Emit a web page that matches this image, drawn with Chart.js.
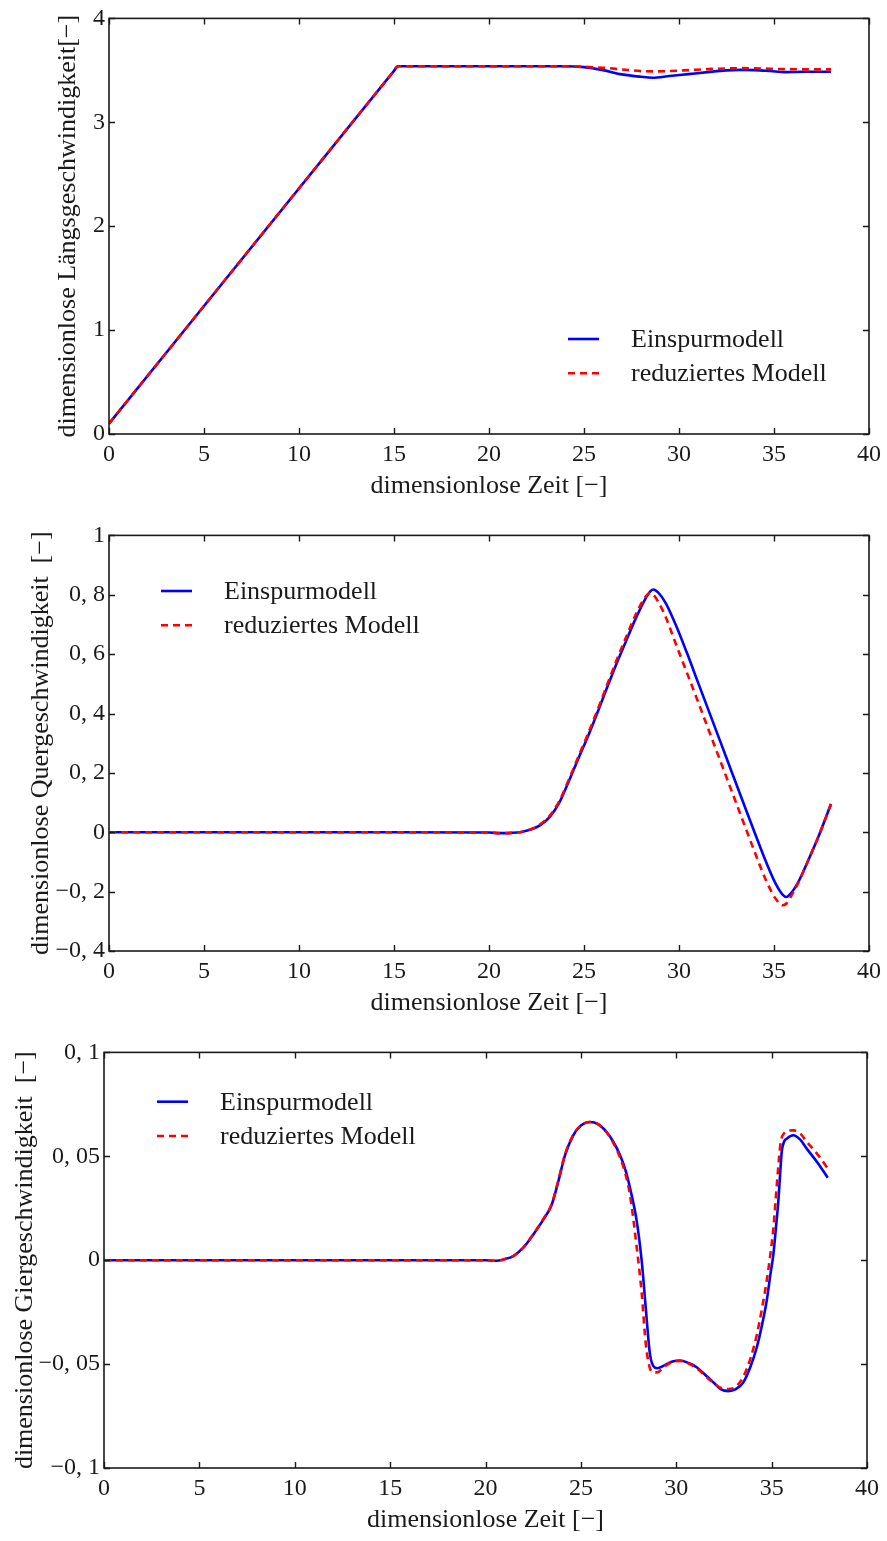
<!DOCTYPE html>
<html>
<head>
<meta charset="utf-8">
<script src="https://cdn.jsdelivr.net/npm/chart.js@4.4.1/dist/chart.umd.min.js"></script>
<style>
  html, body { margin: 0; padding: 0; background: #fff; overflow: hidden; }
  #wrap { position: relative; width: 887px; height: 1541px; }
  canvas { position: absolute; left: 0; }
</style>
</head>
<body>
<div id="wrap">
  <canvas id="c1" width="887" height="517" style="top:0px"></canvas>
  <canvas id="c2" width="887" height="517" style="top:517px"></canvas>
  <canvas id="c3" width="887" height="517" style="top:1034px"></canvas>
</div>
<script>
// ---- series names ----
const seriesNames = ['Einspurmodell', 'reduziertes Modell'];

// ---- shared x axis ----
const xTickValues = [0, 5, 10, 15, 20, 25, 30, 35, 40];
const xTickLabels = ['0', '5', '10', '15', '20', '25', '30', '35', '40'];
const xTitle = 'dimensionlose Zeit [\u2212]';

// ---- longitudinal velocity ----
const time1 = [0, 15.0, 15.2, 16, 18, 20, 22, 24, 25, 26, 27, 28, 28.6, 29.5, 30.5, 31.5, 32.5, 33.2, 34, 34.8, 35.6, 36.5, 37.3, 38];
const single1 = [0.10, 3.495, 3.54, 3.54, 3.54, 3.54, 3.54, 3.54, 3.531, 3.502, 3.461, 3.438, 3.429, 3.445, 3.464, 3.483, 3.50, 3.505, 3.502, 3.493, 3.483, 3.486, 3.487, 3.486];
const reduced1 = [0.10, 3.495, 3.54, 3.54, 3.54, 3.54, 3.54, 3.54, 3.534, 3.525, 3.509, 3.493, 3.49, 3.493, 3.502, 3.512, 3.518, 3.521, 3.52, 3.515, 3.512, 3.51, 3.509, 3.509];
const yTickValues1 = [0, 1, 2, 3, 4];
const yTickLabels1 = ['0', '1', '2', '3', '4'];
const yTitle1 = 'dimensionlose L\u00e4ngsgeschwindigkeit[\u2212]';

// ---- lateral velocity ----
const time2 = [0, 5, 10, 15, 20, 20.6, 21.2, 21.7, 22.2, 22.7, 23.2, 23.7, 24.2, 24.7, 25.2, 25.7, 26.2, 26.7, 27.2, 27.7, 28.2, 28.5, 28.65, 28.9, 29.3, 29.8, 30.4, 31, 31.6, 32.2, 32.8, 33.4, 34, 34.6, 35.1, 35.45, 35.65, 35.9, 36.3, 36.8, 37.4, 38];
const single2 = [0, 0, 0, 0, -0.001, -0.003, -0.002, 0.001, 0.009, 0.024, 0.052, 0.10, 0.172, 0.248, 0.322, 0.402, 0.485, 0.566, 0.642, 0.717, 0.783, 0.812, 0.818, 0.808, 0.772, 0.703, 0.607, 0.505, 0.403, 0.301, 0.199, 0.097, -0.004, -0.103, -0.175, -0.210, -0.218, -0.205, -0.165, -0.095, -0.005, 0.095];
const reduced2 = [0, 0, 0, 0, -0.001, -0.003, -0.002, 0.001, 0.010, 0.027, 0.056, 0.105, 0.177, 0.254, 0.33, 0.41, 0.494, 0.577, 0.655, 0.73, 0.79, 0.806, 0.80, 0.777, 0.725, 0.64, 0.54, 0.44, 0.338, 0.236, 0.134, 0.032, -0.069, -0.165, -0.225, -0.246, -0.240, -0.215, -0.167, -0.095, -0.005, 0.095];
const yTickValues2 = [-0.4, -0.2, 0, 0.2, 0.4, 0.6, 0.8, 1];
const yTickLabels2 = ['\u22120, 4', '\u22120, 2', '0', '0, 2', '0, 4', '0, 6', '0, 8', '1'];
const yTitle2 = 'dimensionlose Quergeschwindigkeit  [\u2212]';

// ---- yaw rate ----
const time3 = [0, 5, 10, 15, 20, 20.5, 21.0, 21.46, 21.98, 22.5, 23.03, 23.47, 23.82, 24.17, 24.6, 25.0, 25.48, 25.9, 26.35, 26.7, 27.05, 27.35, 27.58, 27.93, 28.19, 28.4, 28.62, 28.8, 29.0, 29.4, 29.8, 30.2, 30.65, 31.07, 31.5, 31.94, 32.35, 32.73, 33.1, 33.52, 33.9, 34.22, 34.5, 34.74, 34.95, 35.09, 35.22, 35.35, 35.45, 35.53, 35.65, 35.79, 36.14, 36.5, 36.84, 37.4, 37.94];
const single3 = [0, 0, 0, 0, 0, -0.0003, 0.0005, 0.002, 0.006, 0.0123, 0.0195, 0.0267, 0.038, 0.0506, 0.0601, 0.0648, 0.0665, 0.0655, 0.0617, 0.057, 0.0506, 0.043, 0.0346, 0.0187, -0.0005, -0.0228, -0.0451, -0.051, -0.052, -0.0505, -0.0488, -0.0483, -0.0495, -0.0515, -0.055, -0.0587, -0.0622, -0.063, -0.0622, -0.0587, -0.051, -0.042, -0.031, -0.0196, -0.006, 0.0027, 0.015, 0.0282, 0.042, 0.0522, 0.057, 0.0585, 0.0601, 0.058, 0.0537, 0.047, 0.0397];
const reduced3 = [0, 0, 0, 0, 0, -0.0003, 0.0005, 0.002, 0.006, 0.0125, 0.0198, 0.027, 0.0385, 0.051, 0.0603, 0.0648, 0.0665, 0.0655, 0.0615, 0.0565, 0.0495, 0.041, 0.031, 0.006, -0.016, -0.040, -0.052, -0.054, -0.054, -0.051, -0.049, -0.0485, -0.0497, -0.052, -0.0555, -0.059, -0.0615, -0.062, -0.061, -0.056, -0.047, -0.036, -0.023, -0.010, 0.004, 0.015, 0.030, 0.045, 0.055, 0.059, 0.061, 0.062, 0.0625, 0.061, 0.057, 0.051, 0.0442];
const yTickValues3 = [-0.1, -0.05, 0, 0.05, 0.1];
const yTickLabels3 = ['\u22120, 1', '\u22120, 05', '0', '0, 05', '0, 1'];
const yTitle3 = 'dimensionlose Giergeschwindigkeit  [\u2212]';

// ---- styling ----
const FONT = '"Liberation Serif", "Times New Roman", "DejaVu Serif", serif';
const INK = '#1a1a1a';
const BLUE = '#0000ff';
const RED = '#ff0000';

// Closed frame with inward tick marks on all four sides
const frameTicks = {
  id: 'frameTicks',
  afterDatasetsDraw(chart) {
    const { ctx, chartArea: a, scales: { x, y } } = chart;
    const len = 6;
    ctx.save();
    ctx.strokeStyle = INK;
    ctx.lineWidth = 1.4;
    ctx.beginPath();
    x.ticks.forEach(t => {
      const px = Math.round(x.getPixelForValue(t.value)) + 0.5;
      ctx.moveTo(px, a.bottom); ctx.lineTo(px, a.bottom - len);
      ctx.moveTo(px, a.top); ctx.lineTo(px, a.top + len);
    });
    y.ticks.forEach(t => {
      const py = Math.round(y.getPixelForValue(t.value)) + 0.5;
      ctx.moveTo(a.left, py); ctx.lineTo(a.left + len, py);
      ctx.moveTo(a.right, py); ctx.lineTo(a.right - len, py);
    });
    ctx.stroke();
    ctx.lineWidth = 1.6;
    ctx.strokeRect(a.left, a.top, a.right - a.left, a.bottom - a.top);
    ctx.restore();
  }
};

// Frameless key with line samples, placed inside the plot
const seriesKey = {
  id: 'seriesKey',
  afterDraw(chart, args, opts) {
    const ctx = chart.ctx;
    ctx.save();
    ctx.font = opts.size + 'px ' + FONT;
    ctx.textAlign = 'left';
    ctx.textBaseline = 'alphabetic';
    chart.data.datasets.forEach((ds, i) => {
      const ly = opts.y + i * opts.rowGap;
      ctx.strokeStyle = ds.borderColor;
      ctx.lineWidth = ds.borderWidth;
      ctx.setLineDash(ds.borderDash || []);
      ctx.beginPath();
      ctx.moveTo(opts.x, ly);
      ctx.lineTo(opts.x + opts.sample, ly);
      ctx.stroke();
      ctx.setLineDash([]);
      ctx.fillStyle = INK;
      ctx.fillText(ds.label, opts.x + opts.textOffset, ly + opts.textDy);
    });
    ctx.restore();
  }
};

function pts(t, v) { return t.map((tv, i) => ({ x: tv, y: v[i] })); }

function makeChart(id, cfg) {
  return new Chart(document.getElementById(id), {
    type: 'line',
    data: {
      datasets: [
        {
          label: seriesNames[0], data: pts(cfg.time, cfg.single),
          borderColor: BLUE, borderWidth: 2.6, pointRadius: 0, order: 1,
          cubicInterpolationMode: 'monotone'
        },
        {
          label: seriesNames[1], data: pts(cfg.time, cfg.reduced),
          borderColor: RED, borderWidth: 2.6, borderDash: [7, 5], pointRadius: 0, order: 0,
          cubicInterpolationMode: 'monotone'
        }
      ]
    },
    options: {
      responsive: false,
      animation: false,
      events: [],
      layout: { padding: { top: 16, right: cfg.right, bottom: 0, left: 0 } },
      plugins: {
        legend: { display: false },
        tooltip: { enabled: false },
        seriesKey: cfg.key
      },
      scales: {
        x: {
          type: 'linear', min: 0, max: 40,
          afterBuildTicks: s => { s.ticks = xTickValues.map(v => ({ value: v })); },
          afterFit: s => { s.height = 83; },
          grid: { display: false, drawTicks: false },
          border: { display: false },
          ticks: {
            autoSkip: false, maxRotation: 0, padding: 6, color: INK,
            font: { family: FONT, size: 24 },
            callback: (v, i) => xTickLabels[i]
          },
          title: {
            display: true, text: xTitle, color: INK,
            font: { family: FONT, size: 26 },
            padding: { top: 0, bottom: 15 }
          }
        },
        y: {
          type: 'linear', min: cfg.yMin, max: cfg.yMax,
          afterBuildTicks: s => { s.ticks = cfg.yTicks.map(v => ({ value: v })); },
          afterFit: s => { s.width = cfg.left; },
          grid: { display: false, drawTicks: false },
          border: { display: false },
          ticks: {
            autoSkip: false, padding: 4, color: INK,
            font: { family: FONT, size: 24 },
            callback: (v, i) => cfg.yLabels[i]
          },
          title: {
            display: true, text: cfg.yTitle, color: INK,
            font: { family: FONT, size: 26 },
            padding: { top: cfg.titlePad, bottom: 0 }
          }
        }
      }
    },
    plugins: [frameTicks, seriesKey]
  });
}

makeChart('c1', {
  time: time1, single: single1, reduced: reduced1,
  yMin: 0, yMax: 4, yTicks: yTickValues1, yLabels: yTickLabels1, yTitle: yTitle1,
  left: 109, right: 16, titlePad: 53,
  key: { x: 568, y: 339, rowGap: 34.3, sample: 31, textOffset: 63, textDy: 8, size: 26 }
});

makeChart('c2', {
  time: time2, single: single2, reduced: reduced2,
  yMin: -0.4, yMax: 1, yTicks: yTickValues2, yLabels: yTickLabels2, yTitle: yTitle2,
  left: 109, right: 16, titlePad: 26,
  key: { x: 161, y: 74, rowGap: 34.3, sample: 31, textOffset: 63, textDy: 8, size: 26 }
});

makeChart('c3', {
  time: time3, single: single3, reduced: reduced3,
  yMin: -0.1, yMax: 0.1, yTicks: yTickValues3, yLabels: yTickLabels3, yTitle: yTitle3,
  left: 104, right: 20, titlePad: 10,
  key: { x: 157, y: 67.7, rowGap: 34.3, sample: 31, textOffset: 63, textDy: 8, size: 26 }
});
</script>
</body>
</html>
